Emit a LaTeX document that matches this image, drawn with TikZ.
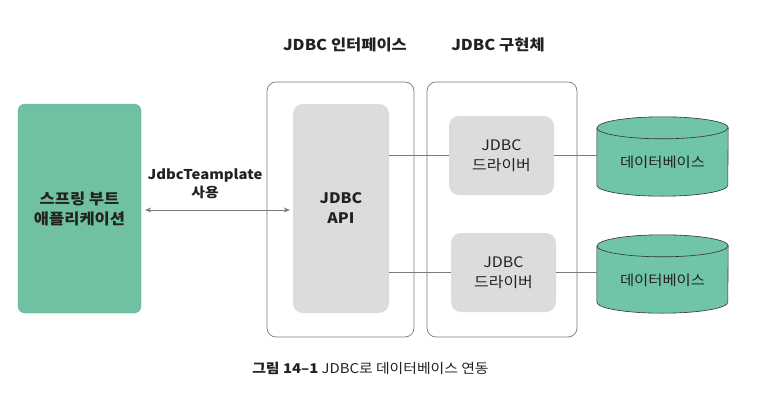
\documentclass[tikz,border=0pt]{standalone}
\usepackage{fontspec}
\setmainfont{Noto Sans CJK KR}[FakeStretch=1.1]
\usetikzlibrary{arrows.meta,calc}
\definecolor{appgreen}{HTML}{70C1A2}
\definecolor{dbgreen}{HTML}{6FC4A9}
\definecolor{boxgray}{HTML}{DCDCDC}
\definecolor{edgegray}{HTML}{7A7A7A}
\definecolor{txt}{HTML}{222222}
\tikzset{
  every node/.style={text=txt, align=center, inner sep=0pt},
  appbox/.style={rectangle, rounded corners=7pt, fill=appgreen, draw=appgreen!85!black, line width=0.3pt, minimum width=123pt, minimum height=209pt, font=\bfseries\fontsize{15}{20}\selectfont},
  outerbox/.style={rectangle, rounded corners=9pt, draw=edgegray, line width=0.7pt, minimum width=#1, minimum height=255pt},
  apibox/.style={rectangle, rounded corners=10pt, fill=boxgray, minimum width=96pt, minimum height=209pt, font=\bfseries\fontsize{14.5}{20}\selectfont},
  drvbox/.style={rectangle, rounded corners=10pt, fill=boxgray, minimum width=105pt, minimum height=79pt, font=\fontsize{14.5}{19.5}\selectfont},
  dbnode/.style={rectangle, minimum width=131pt, minimum height=#1},
  dbshape/.style={fill=dbgreen, draw=black!80, line width=0.6pt},
  dbtext/.style={font=\fontsize{14}{17}\selectfont},
  titletext/.style={font=\bfseries\fontsize{15}{18}\selectfont},
  conn/.style={draw=edgegray, line width=0.8pt},
  biarrow/.style={draw=edgegray, line width=0.9pt, {Stealth[length=6pt,width=5pt]}-{Stealth[length=6pt,width=5pt]}},
}
\newcommand\dbcyl[1]{%
  \path[dbshape] ([yshift=-11pt]#1.north west) -- ([yshift=11pt]#1.south west)
    arc[start angle=180, end angle=360, x radius=65.5pt, y radius=11pt]
    -- ([yshift=-11pt]#1.north east)
    arc[start angle=0, end angle=180, x radius=65.5pt, y radius=11pt] -- cycle;
  \draw[black!80, line width=0.6pt] ([yshift=-11pt]#1.north west)
    arc[start angle=180, end angle=360, x radius=65.5pt, y radius=11pt];
}
\begin{document}
\begin{tikzpicture}[x=1pt,y=1pt]
\useasboundingbox[fill=white] (0,0) rectangle (763,416);

\node[appbox] (app) at (79.5,207.5) {스프링 부트\\애플리케이션};
\node[outerbox=147pt] (iface) at (340.5,206.5) {};
\node[outerbox=150pt] (impl) at (502,206.5) {};
\node[apibox] (api) at (341,207.5) {JDBC\\API};
\node[drvbox] (d1) at (501.5,260.5) {JDBC\\드라이버};
\node[drvbox] (d2) at (503.5,143.5) {JDBC\\드라이버};

\node[dbnode=79pt] (db1) at (662.5,259.5) {};
\node[dbnode=78pt] (db2) at (662.5,142) {};
\dbcyl{db1}
\dbcyl{db2}
\node[dbtext] (db1t) at ([yshift=-6pt]db1.center) {데이터베이스};
\node[dbtext] (db2t) at ([yshift=-6pt]db2.center) {데이터베이스};

\node[titletext] (t1) at (345,371) {JDBC 인터페이스};
\node[titletext] (t2) at (498,371) {JDBC 구현체};

\draw[biarrow, shorten <=4pt, shorten >=3pt] (app.east |- 0,206) -- (api.west |- 0,206);
\node[font=\bfseries\fontsize{13.5}{18}\selectfont] (lbl) at (205,232) {JdbcTeamplate\\사용};

\draw[conn] (api.east |- d1) -- (d1.west);
\draw[conn] (api.east |- d2) -- (d2.west);
\draw[conn] (d1.east) -- (d1.east -| db1.west);
\draw[conn] (d2.east) -- (d2.east -| db2.west);

\node[font=\fontsize{13.5}{16}\selectfont] (cap) at (370.5,48) {\textbf{그림 14–1} JDBC로 데이터베이스 연동};
\end{tikzpicture}
\end{document}
